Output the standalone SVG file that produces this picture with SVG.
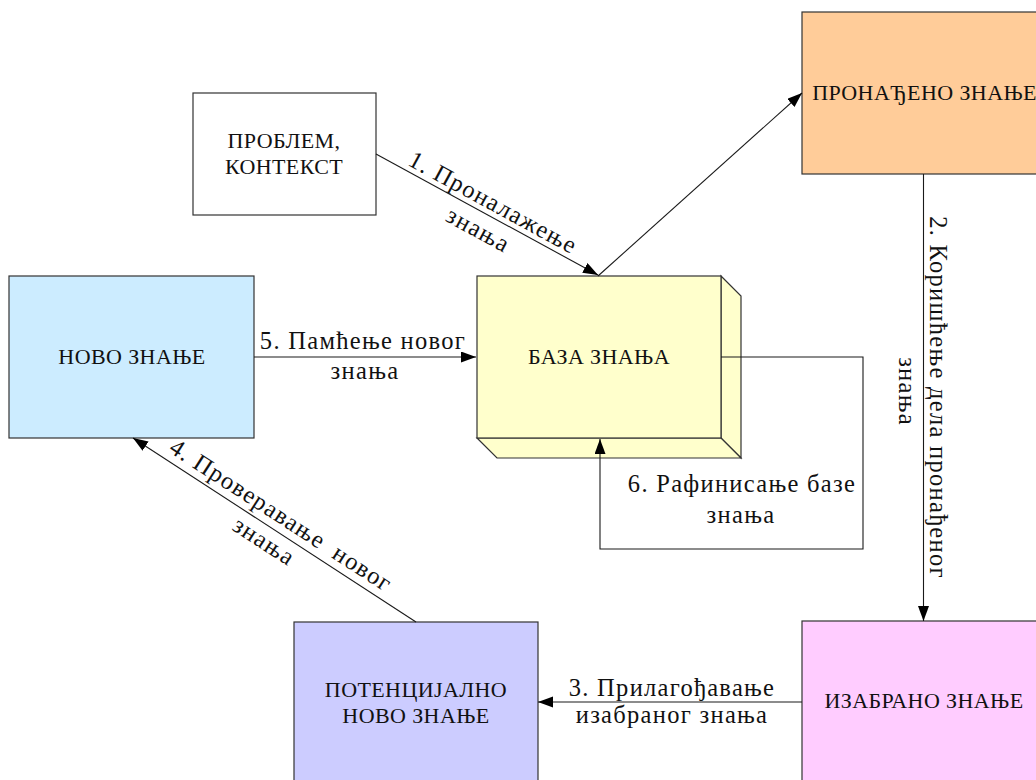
<svg xmlns="http://www.w3.org/2000/svg" width="1036" height="780" viewBox="0 0 1036 780">
<style>
.box{stroke:#333;stroke-width:1.2}
.nt{font-family:'Liberation Serif','DejaVu Serif',serif;font-size:22px;letter-spacing:0.4px;fill:#111;text-anchor:middle}
.lt{font-family:'Liberation Serif','DejaVu Serif',serif;font-size:24.5px;letter-spacing:1.3px;fill:#111;text-anchor:middle}
.edge{fill:none;stroke:#1a1a1a;stroke-width:1.1}
</style>
<defs>
<marker id="arr" markerUnits="userSpaceOnUse" markerWidth="16" markerHeight="12" refX="15" refY="5.5" orient="auto">
<path d="M0,0 L15,5.5 L0,11 z" fill="#000"/>
</marker>
</defs>
<rect width="1036" height="780" fill="#fff"/>
<g id="problem">
<rect class="box" x="193" y="93" width="183" height="122" fill="#fff"/>
<text class="nt" x="284" y="148">ПРОБЛЕМ,</text>
<text class="nt" x="284" y="174">КОНТЕКСТ</text>
</g>
<g id="novo">
<rect class="box" x="9" y="276" width="245" height="162" fill="#CCECFF"/>
<text class="nt" x="132" y="364">НОВО ЗНАЊЕ</text>
</g>
<g id="baza">
<polygon class="box" points="721,276 741,296 741,458 721,438" fill="#FFFFCC"/>
<polygon class="box" points="477,438 721,438 741,458 497,458" fill="#FFFFCC"/>
<rect class="box" x="477" y="276" width="244" height="162" fill="#FFFFCC"/>
<text class="nt" x="599" y="364">БАЗА ЗНАЊА</text>
</g>
<g id="pronadjeno">
<rect class="box" x="802" y="12" width="245" height="162" fill="#FFCC99"/>
<text class="nt" x="924.5" y="100">ПРОНАЂЕНО ЗНАЊЕ</text>
</g>
<g id="izabrano">
<rect class="box" x="802" y="621" width="245" height="162" fill="#FFCCFF"/>
<text class="nt" x="924" y="708">ИЗАБРАНО ЗНАЊЕ</text>
</g>
<g id="potencijalno">
<rect class="box" x="294" y="622" width="244" height="162" fill="#CCCCFF"/>
<text class="nt" x="416" y="697">ПОТЕНЦИЈАЛНО</text>
<text class="nt" x="416" y="723">НОВО ЗНАЊЕ</text>
</g>
<g id="connectors">
<path class="edge" d="M376,154 L598,275" marker-end="url(#arr)"/>
<path class="edge" d="M598,276 L802,93" marker-end="url(#arr)"/>
<path class="edge" d="M923.5,174 L923.5,621" marker-end="url(#arr)"/>
<path class="edge" d="M802,702 L538,702" marker-end="url(#arr)"/>
<path class="edge" d="M416,622 L133,438" marker-end="url(#arr)"/>
<path class="edge" d="M254,357 L476,357" marker-end="url(#arr)"/>
<path class="edge" d="M721,357 H863 V549 H600 V439" marker-end="url(#arr)"/>
</g>
<g id="labels">
<g transform="translate(487,214) rotate(28.6)">
<text class="lt" x="0" y="-5">1. Проналажење</text>
<text class="lt" x="0" y="26">знања</text>
</g>
<g transform="translate(923.5,397.5) rotate(90)">
<text class="lt" x="0" y="-6">2. Коришћење дела пронађеног</text>
<text class="lt" x="-6" y="24.5">знања</text>
</g>
<text class="lt" x="672" y="696">3. Прилагођавање</text>
<text class="lt" x="672" y="723">изабраног знања</text>
<g transform="translate(272.4,528.7) rotate(33)">
<text class="lt" x="0" y="-8">4. Проверавање <tspan dx="6">новог</tspan></text>
<text class="lt" x="0" y="23">знања</text>
</g>
<text class="lt" x="363" y="349">5. Памћење новог</text>
<text class="lt" x="365" y="379">знања</text>
<text class="lt" x="742" y="492">6. Рафинисање базе</text>
<text class="lt" x="741" y="523">знања</text>
</g>
</svg>
